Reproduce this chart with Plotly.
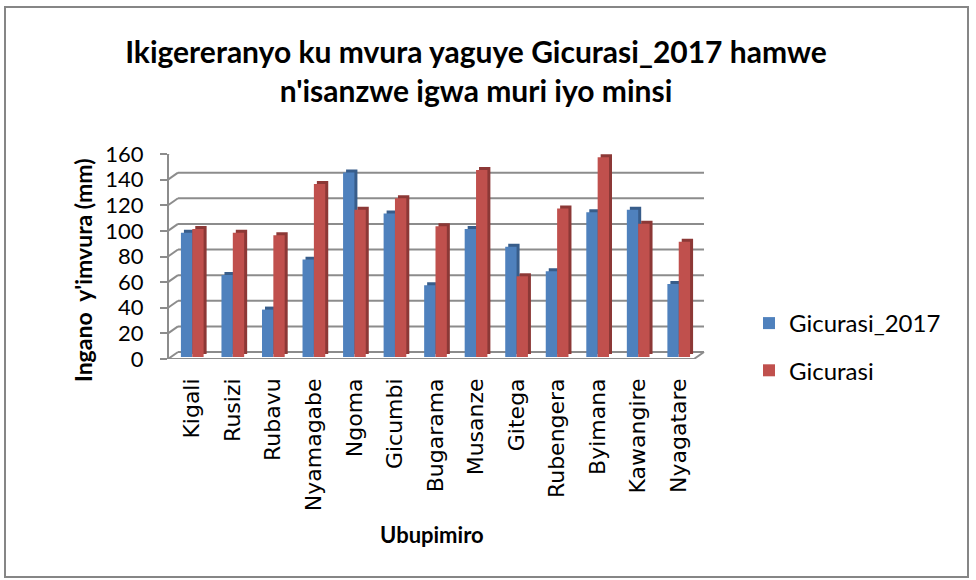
import plotly.graph_objects as go

categories = ["Kigali", "Rusizi", "Rubavu", "Nyamagabe", "Ngoma", "Gicumbi", "Bugarama",
              "Musanze", "Gitega", "Rubengera", "Byimana", "Kawangire", "Nyagatare"]
gicurasi_2017 = [97, 64, 37, 76, 144, 112, 56, 100, 86, 67, 113, 115, 57]
gicurasi = [100, 97, 95, 135, 115, 124, 102, 146, 63, 116, 156, 104, 90]
y_ticks = [0, 20, 40, 60, 80, 100, 120, 140, 160]

W, H = 976, 580
FONT = "Lato, Carlito, Calibri, sans-serif"
GRID = "#8c8c8c"

def px(x):
    return x / W

def py(y):
    return 1 - y / H

fig = go.Figure()
# dark "side/top" faces (own subplot, drawn first, slightly offset up-right)
fig.add_trace(go.Bar(x=categories, y=gicurasi_2017, xaxis="x", yaxis="y2", showlegend=False,
                     hoverinfo="skip", marker=dict(color="#385D8A", line=dict(width=0))))
fig.add_trace(go.Bar(x=categories, y=gicurasi, xaxis="x", yaxis="y2", showlegend=False,
                     hoverinfo="skip", marker=dict(color="#8C3836", line=dict(width=0))))
# front faces
fig.add_trace(go.Bar(x=categories, y=gicurasi_2017, name="Gicurasi_2017", xaxis="x2", yaxis="y3",
                     legendgroup="a", marker=dict(color="#4F81BD", line=dict(width=0))))
fig.add_trace(go.Bar(x=categories, y=gicurasi, name="Gicurasi", xaxis="x2", yaxis="y3",
                     legendgroup="b", marker=dict(color="#C0504D", line=dict(width=0))))

shapes = []
for v in y_ticks:
    # back wall gridline
    shapes.append(dict(type="line", xref="paper", yref="y", ysizemode="pixel", yanchor=v,
                       x0=px(178), x1=px(704), y0=7, y1=7, layer="below",
                       line=dict(color=GRID, width=2)))
    # side wall diagonal
    shapes.append(dict(type="line", xref="paper", yref="y", ysizemode="pixel", yanchor=v,
                       x0=px(168), x1=px(178), y0=0, y1=7, layer="below",
                       line=dict(color=GRID, width=2)))
# floor front edge and right diagonal
shapes.append(dict(type="line", xref="paper", yref="y", ysizemode="pixel", yanchor=y_ticks[0],
                   x0=px(168), x1=px(694), y0=0, y1=0, layer="above",
                   line=dict(color=GRID, width=2)))
shapes.append(dict(type="line", xref="paper", yref="y", ysizemode="pixel", yanchor=y_ticks[0],
                   x0=px(694), x1=px(704), y0=0, y1=7, layer="above",
                   line=dict(color=GRID, width=2)))
# chart border
shapes.append(dict(type="rect", xref="paper", yref="paper",
                   x0=px(5), x1=px(968), y0=py(577), y1=py(7),
                   line=dict(color="#868686", width=2)))

fig.update_layout(
    width=W, height=H,
    margin=dict(l=0, r=0, t=0, b=0, autoexpand=False),
    paper_bgcolor="white", plot_bgcolor="rgba(0,0,0,0)",
    font=dict(family=FONT, color="black"),
    barmode="group", bargap=0.44, bargroupgap=0.0,
    title=dict(text="<b>Ikigereranyo ku mvura yaguye Gicurasi_2017 hamwe<br>n'isanzwe igwa muri iyo minsi</b>",
               x=px(476), xanchor="center", y=py(63), yanchor="middle",
               font=dict(size=30, family=FONT)),
    xaxis=dict(domain=[px(175), px(702)], anchor="y2", visible=False, automargin=False),
    xaxis2=dict(domain=[px(172), px(699)], anchor="y3", tickangle=-90,
                tickfont=dict(size=22, family="DejaVu Sans"), ticklabelstandoff=16,
                showline=False, ticks="", showgrid=False, zeroline=False, automargin=False),
    yaxis=dict(domain=[py(359), py(154)], range=[0, 160], tickvals=y_ticks,
               anchor="free", position=px(168),
               tickfont=dict(size=22), showgrid=False, zeroline=False,
               showline=True, linecolor=GRID, linewidth=2, ticks="outside",
               tickcolor=GRID, ticklen=7, tickwidth=2, ticklabelstandoff=12, automargin=False),
    yaxis2=dict(domain=[py(354), py(149)], range=[0, 160], anchor="x", visible=False,
                automargin=False),
    yaxis3=dict(domain=[py(357), py(152)], range=[0, 160], anchor="x2", visible=False,
                automargin=False),
    legend=dict(x=px(749), y=py(301), xanchor="left", yanchor="top",
                font=dict(size=24), tracegroupgap=13, traceorder="grouped",
                itemwidth=30, bgcolor="rgba(0,0,0,0)"),
    annotations=[
        dict(text="<b>Ingano  y'imvura (mm)</b>", xref="paper", yref="paper",
             x=px(83), y=py(270), xanchor="center", yanchor="middle", textangle=-90,
             showarrow=False, font=dict(size=23, family=FONT)),
        dict(text="<b>Ubupimiro</b>", xref="paper", yref="paper",
             x=px(432), y=py(534), xanchor="center", yanchor="middle", showarrow=False,
             font=dict(size=22, family=FONT)),
    ],
    shapes=shapes,
)

fig.write_html("out.html", config={"displayModeBar": False},
               post_script="document.body.style.margin='0';")
